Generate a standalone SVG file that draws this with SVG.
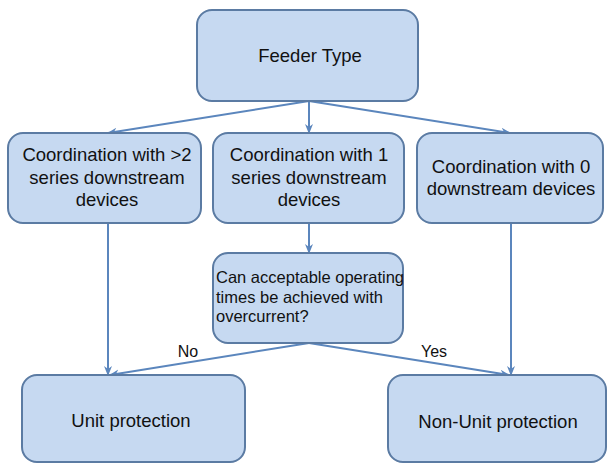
<svg xmlns="http://www.w3.org/2000/svg" width="608" height="464" viewBox="0 0 608 464">
<style>
.box{fill:#c6d9f1;stroke:#5b7ba3;stroke-width:2}
.t{font-family:"Liberation Sans",Arial,sans-serif;font-size:18.5px;fill:#111;text-anchor:middle}
.q{font-family:"Liberation Sans",Arial,sans-serif;font-size:16.5px;fill:#111}
.lbl{font-family:"Liberation Sans",Arial,sans-serif;font-size:16px;fill:#111;text-anchor:middle}
.c{fill:none;stroke:#5b86bd;stroke-width:2;marker-end:url(#ah)}
</style>
<defs>
<marker id="ah" viewBox="0 0 10 10" refX="9" refY="5" markerWidth="5" markerHeight="5" orient="auto" markerUnits="strokeWidth">
<path d="M0,1 L10,5 L0,9 L3,5 Z" fill="#5b86bd"/>
</marker>
</defs>
<rect width="608" height="464" fill="#ffffff"/>
<g id="connectors">
<path class="c" d="M309,101 L108,133"/>
<path class="c" d="M309,101 L309,133"/>
<path class="c" d="M309,101 L510,133"/>
<path class="c" d="M108,223 L108,375"/>
<path class="c" d="M309,223 L309,253"/>
<path class="c" d="M511,223 L511,375"/>
<path class="c" d="M309,343 L110,375"/>
<path class="c" d="M309,343 L509,375"/>
<text class="lbl" x="188" y="357">No</text>
<text class="lbl" x="434" y="357">Yes</text>
</g>
<g id="feeder">
<rect class="box" x="197" y="10" width="221" height="91" rx="15"/>
<text class="t" x="310" y="62">Feeder Type</text>
</g>
<g id="coord2">
<rect class="box" x="8" y="133" width="193" height="90" rx="15"/>
<text class="t" x="107" y="161">Coordination with &gt;2</text>
<text class="t" x="107" y="184">series downstream</text>
<text class="t" x="107" y="206">devices</text>
</g>
<g id="coord1">
<rect class="box" x="213" y="133" width="191" height="90" rx="15"/>
<text class="t" x="309" y="161">Coordination with 1</text>
<text class="t" x="309" y="184">series downstream</text>
<text class="t" x="309" y="206">devices</text>
</g>
<g id="coord0">
<rect class="box" x="417" y="133" width="186" height="90" rx="15"/>
<text class="t" x="511" y="173">Coordination with 0</text>
<text class="t" x="511" y="195">downstream devices</text>
</g>
<g id="question">
<rect class="box" x="213" y="253" width="190" height="90" rx="15"/>
<text class="q" x="216" y="283">Can acceptable operating</text>
<text class="q" x="216" y="303">times be achieved with</text>
<text class="q" x="216" y="322">overcurrent?</text>
</g>
<g id="unit">
<rect class="box" x="22" y="375" width="223" height="87" rx="15"/>
<text class="t" x="131" y="427">Unit protection</text>
</g>
<g id="nonunit">
<rect class="box" x="388" y="375" width="218" height="87" rx="15"/>
<text class="t" x="498" y="428">Non-Unit protection</text>
</g>
</svg>
